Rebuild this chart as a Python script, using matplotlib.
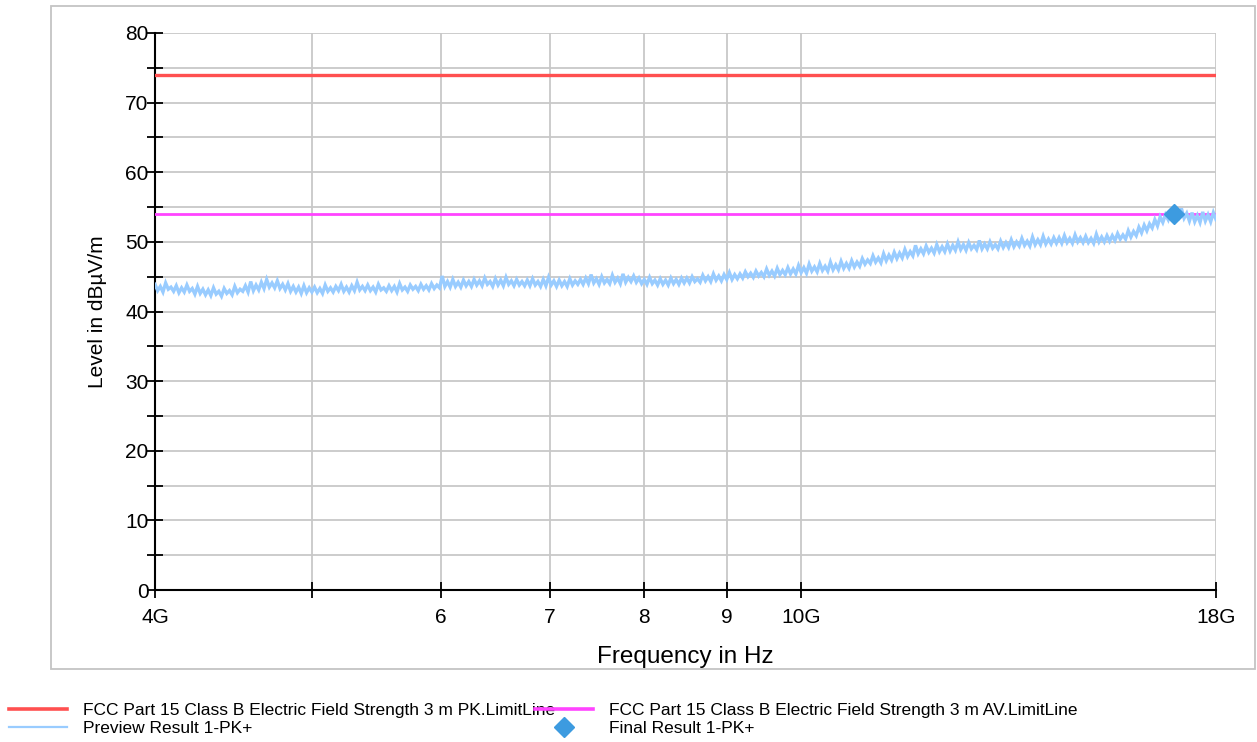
import numpy as np
import matplotlib
matplotlib.use('Agg')
import matplotlib.pyplot as plt
from matplotlib.ticker import FixedLocator, FixedFormatter, NullLocator
from matplotlib.lines import Line2D
from matplotlib.patches import Rectangle

plt.rcParams['font.family'] = ['Liberation Sans', 'DejaVu Sans']

# ---------------- data ----------------
sweep_start_hz = 4e9
sweep_stop_hz = 18e9

preview_levels = [
    43.9, 43.0, 43.6, 42.8, 44.1, 43.2, 43.5, 42.9, 43.7, 42.7, 43.4, 42.8, 43.8, 42.9, 43.3, 42.5, 43.6, 42.6, 43.2, 42.4,
    43.1, 42.3, 43.4, 42.5, 42.9, 42.2, 43.3, 42.6, 43.0, 42.4, 43.6, 42.7, 43.2, 42.9, 43.7, 42.8, 44.3, 43.0, 43.8, 43.1,
    44.2, 43.3, 44.6, 43.5, 44.1, 43.4, 44.4, 43.3, 43.9, 43.1, 44.0, 42.9, 43.6, 42.8, 43.5, 42.6, 43.7, 42.7, 43.4, 42.8,
    43.5, 42.7, 43.3, 42.6, 43.8, 42.9, 43.4, 42.8, 43.6, 43.0, 43.9, 42.9, 43.5, 42.8, 43.7, 43.0, 44.2, 43.1, 43.6, 43.0,
    43.8, 43.0, 43.5, 42.8, 43.9, 43.1, 43.4, 42.9, 43.7, 43.0, 43.6, 42.8, 44.0, 43.1, 43.5, 42.9, 43.8, 43.2, 43.6, 43.0,
    43.9, 43.2, 43.7, 43.1, 44.0, 43.3, 43.8, 43.4, 45.1, 43.6, 44.3, 43.5, 44.6, 43.6, 44.2, 43.5, 44.5, 43.7, 44.3, 43.6,
    44.6, 43.8, 44.4, 43.7, 44.8, 43.9, 44.3, 43.6, 44.7, 43.8, 44.5, 43.7, 44.9, 43.9, 44.4, 43.7, 44.6, 43.8, 44.3, 43.7,
    44.5, 43.7, 44.7, 43.8, 44.3, 43.6, 44.6, 43.7, 44.9, 43.8, 44.4, 43.6, 44.5, 43.7, 44.3, 43.6, 44.7, 43.8, 44.4, 43.9,
    44.6, 43.9, 44.8, 44.0, 45.3, 44.1, 44.7, 43.9, 45.0, 44.1, 44.6, 44.0, 45.2, 44.2, 44.8, 44.0, 45.4, 44.2, 44.9, 44.3,
    45.1, 44.2, 44.8, 44.0, 44.6, 43.9, 44.9, 44.0, 44.5, 43.8, 44.7, 43.9, 44.5, 43.8, 44.8, 44.0, 44.6, 43.9, 44.8, 44.1,
    44.8, 44.1, 45.0, 44.3, 44.7, 44.2, 45.2, 44.4, 45.0, 44.3, 45.4, 44.5, 45.1, 44.4, 45.3, 44.6, 45.6, 44.6, 45.3, 44.7,
    45.4, 44.8, 45.7, 45.0, 45.5, 44.9, 45.8, 45.1, 45.6, 45.0, 46.1, 45.2, 45.8, 45.1, 46.2, 45.3, 45.9, 45.3, 46.3, 45.4,
    46.1, 45.4, 46.6, 45.6, 46.3, 45.5, 46.8, 45.8, 46.4, 45.7, 46.9, 45.9, 46.5, 45.8, 47.1, 46.0, 46.7, 46.0, 47.2, 46.2,
    46.9, 46.2, 47.3, 46.4, 47.1, 46.5, 47.6, 46.8, 47.4, 46.9, 48.0, 47.1, 47.7, 47.0, 48.3, 47.3, 48.1, 47.4, 48.5, 47.6,
    48.4, 47.7, 48.9, 47.9, 48.6, 48.0, 49.5, 48.3, 49.0, 48.3, 49.4, 48.5, 49.1, 48.4, 49.6, 48.6, 49.3, 48.6, 49.7, 48.7,
    49.5, 48.8, 50.0, 48.9, 49.6, 48.8, 49.9, 49.0, 49.5, 48.9, 50.2, 49.0, 49.7, 49.0, 50.0, 49.1, 49.6, 49.0, 50.1, 49.2,
    49.9, 49.2, 50.3, 49.3, 50.0, 49.4, 50.5, 49.5, 50.1, 49.4, 50.7, 49.6, 50.3, 49.6, 50.8, 49.7, 50.4, 49.7, 50.6, 49.8,
    50.6, 49.8, 50.9, 49.9, 50.5, 49.8, 51.0, 50.0, 50.6, 49.9, 50.8, 49.9, 50.5, 49.8, 51.1, 50.0, 50.7, 50.0, 50.9, 50.1,
    50.9, 50.2, 51.2, 50.4, 51.0, 50.4, 51.6, 50.7, 51.5, 50.9, 52.1, 51.3, 52.4, 51.6, 52.6, 52.0, 53.2, 52.3, 53.6, 52.8,
    53.9, 53.2, 54.6, 53.5, 54.3, 53.6, 54.8, 53.4, 54.1, 53.0, 54.2, 52.9, 53.8, 52.8, 54.3, 53.0, 53.9, 52.9, 54.2, 53.2,
]

pk_limit_db = 74.0
av_limit_db = 54.0

final_freq_hz = [16.95e9]
final_level_db = [54.0]

x_tick_hz = [4e9, 5e9, 6e9, 7e9, 8e9, 9e9, 10e9, 18e9]
x_tick_labels = ['4G', '', '6', '7', '8', '9', '10G', '18G']
y_major_ticks = [0, 10, 20, 30, 40, 50, 60, 70, 80]
y_minor_ticks = [5, 15, 25, 35, 45, 55, 65, 75]

legend_labels = [
    'FCC Part 15 Class B Electric Field Strength 3 m PK.LimitLine',
    'Preview Result 1-PK+',
    'FCC Part 15 Class B Electric Field Strength 3 m AV.LimitLine',
    'Final Result 1-PK+',
]

# ---------------- styles ----------------
C_PK = '#ff5050'
C_AV = '#ff44ff'
C_TRACE = '#99ccff'
C_FINAL = '#3d9be0'
C_GRID = '#c8c8c8'

W, H = 1257, 742
fig = plt.figure(figsize=(W / 100, H / 100), dpi=100)

fig.patches.append(Rectangle((51 / W, 1 - 669 / H), (1255 - 51) / W, (669 - 6) / H,
                             transform=fig.transFigure, fill=False,
                             edgecolor='#c4c4c4', lw=1.3))

ax = fig.add_axes([155 / W, 1 - 590 / H, 1061 / W, 557 / H])
ax.set_xscale('log')

freq_hz = np.geomspace(sweep_start_hz, sweep_stop_hz, len(preview_levels))

ax.plot([sweep_start_hz, sweep_stop_hz], [pk_limit_db, pk_limit_db], color=C_PK, lw=2.4, zorder=3)
ax.plot([sweep_start_hz, sweep_stop_hz], [av_limit_db, av_limit_db], color=C_AV, lw=2.0, zorder=3)
ax.plot(freq_hz, preview_levels, color=C_TRACE, lw=2.4, zorder=4, solid_joinstyle='miter')
ax.plot(final_freq_hz, final_level_db, linestyle='none', marker='D', markersize=10,
        color=C_FINAL, zorder=5)

ax.set_xlim(sweep_start_hz, sweep_stop_hz)
ax.set_ylim(0, 80)

ax.xaxis.set_major_locator(FixedLocator(x_tick_hz))
ax.xaxis.set_major_formatter(FixedFormatter(x_tick_labels))
ax.xaxis.set_minor_locator(NullLocator())
ax.yaxis.set_major_locator(FixedLocator(y_major_ticks))
ax.yaxis.set_minor_locator(FixedLocator(y_minor_ticks))

ax.grid(which='major', color=C_GRID, lw=1.3)
ax.grid(which='minor', axis='y', color=C_GRID, lw=1.3)
ax.set_axisbelow(True)

for s in ['top', 'right']:
    ax.spines[s].set_visible(False)
for s in ['left', 'bottom']:
    ax.spines[s].set_linewidth(1.5)
    ax.spines[s].set_color('black')

ax.tick_params(axis='both', which='both', direction='inout', width=1.3, color='black')
ax.tick_params(axis='y', which='major', length=11, labelsize=15, pad=-1)
ax.tick_params(axis='y', which='minor', length=11)
ax.tick_params(axis='x', which='major', length=12, labelsize=15, pad=7)

ax.set_xlabel('Frequency in Hz', fontsize=17.5, labelpad=14)
ax.set_ylabel('Level in dB\u00b5V/m', fontsize=15, labelpad=13)

h_pk = Line2D([], [], color=C_PK, lw=2.6)
h_prev = Line2D([], [], color=C_TRACE, lw=1.6)
h_av = Line2D([], [], color=C_AV, lw=2.6)
h_fin = Line2D([], [], linestyle='none', marker='D', markersize=10, color=C_FINAL)

leg_kw = dict(frameon=False, fontsize=12.5, loc='upper left', borderpad=0,
              borderaxespad=0, handlelength=3.35, handletextpad=0.92,
              labelspacing=0.17, numpoints=1)
leg1 = fig.legend([h_pk, h_prev], legend_labels[:2],
                  bbox_to_anchor=(9 / W, 1 - 703 / H), **leg_kw)
leg2 = fig.legend([h_av, h_fin], legend_labels[2:],
                  bbox_to_anchor=(535 / W, 1 - 703 / H), **leg_kw)

fig.savefig('out.png', dpi=100)
